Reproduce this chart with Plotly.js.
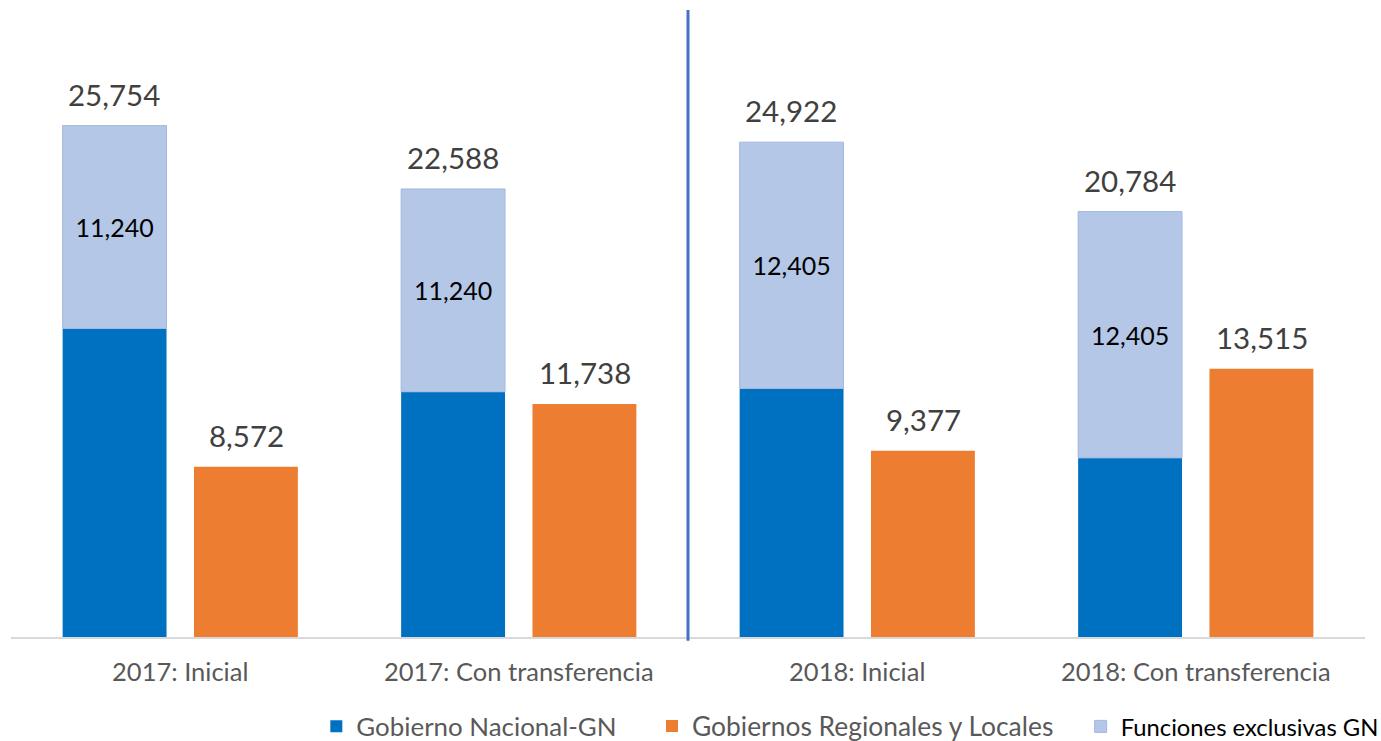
<!DOCTYPE html>
<html>
<head>
<meta charset="utf-8">
<script src="https://cdn.plot.ly/plotly-3.0.1.min.js"></script>
<style>html,body{margin:0;padding:0;background:#fff;}#chart{width:1381px;height:741px;}</style>
</head>
<body>
<div id="chart"></div>
<script>
// Data
const categories = ["2017: Inicial", "2017: Con transferencia", "2018: Inicial", "2018: Con transferencia"];
const gobiernoNacional = [15540, 12350, 12517, 9020];          // dark blue segment
const funcionesExclusivas = [10214, 10214, 12405, 12405];     // light blue segment (stacked on GN)
const gobiernosRegionales = [8572, 11738, 9377, 13515];       // orange bars
const exclusivasLabels = ["11,240", "11,240", "12,405", "12,405"];
const totalLabels = ["25,754", "22,588", "24,922", "20,784"];
const regionalLabels = ["8,572", "11,738", "9,377", "13,515"];
const seriesNames = ["Gobierno Nacional-GN", "Gobiernos Regionales y Locales", "Funciones exclusivas GN"];

const FONT = "Lato, 'Open Sans', sans-serif";
const gnTotals = gobiernoNacional.map((v, i) => v + funcionesExclusivas[i]);

const traces = [
  {
    type: "bar", name: seriesNames[0], x: categories, y: gobiernoNacional, legend: "legend",
    offsetgroup: "gn", marker: {color: "#0070C0"}, hoverinfo: "skip"
  },
  {
    type: "bar", name: seriesNames[1], x: categories, y: gobiernosRegionales, legend: "legend2",
    offsetgroup: "grl", marker: {color: "#ED7D31"}, hoverinfo: "skip"
  },
  {
    type: "bar", name: seriesNames[2], x: categories, y: funcionesExclusivas, legend: "legend3",
    base: gobiernoNacional, offsetgroup: "gn",
    marker: {color: "#B4C7E7", line: {color: "#A3B8E0", width: 1}},
    text: exclusivasLabels, textposition: "inside", insidetextanchor: "middle", textangle: 0,
    constraintext: "none", textfont: {family: FONT, size: 25, color: "#000"},
    hoverinfo: "skip"
  }
];

const annotations = [];
categories.forEach((c, i) => {
  annotations.push({x: c, y: gnTotals[i], xref: "x", yref: "y", xshift: -66, yshift: 12,
    yanchor: "bottom", showarrow: false, text: totalLabels[i],
    font: {family: FONT, size: 29.5, color: "#404040"}});
  annotations.push({x: c, y: gobiernosRegionales[i], xref: "x", yref: "y", xshift: 66, yshift: 12,
    yanchor: "bottom", showarrow: false, text: regionalLabels[i],
    font: {family: FONT, size: 29.5, color: "#404040"}});
});

const legendBase = {orientation: "h", xanchor: "left", y: -0.1426, yanchor: "middle", itemclick: false,
  bgcolor: "rgba(0,0,0,0)"};

const layout = {
  width: 1381, height: 741,
  margin: {l: 10.5, r: 15.5, t: 10, b: 103.5, autoexpand: false},
  paper_bgcolor: "#fff", plot_bgcolor: "#fff",
  barmode: "group", bargap: 0.224, bargroupgap: 0.209,
  font: {family: FONT, color: "#595959"},
  xaxis: {
    type: "category", showgrid: false, zeroline: false, showline: true, automargin: false,
    linecolor: "#D9D9D9", linewidth: 2, ticks: "", ticklabelstandoff: 11,
    tickfont: {family: FONT, size: 25.5, color: "#595959"}, fixedrange: true
  },
  yaxis: {range: [0, 31576], visible: false, showgrid: false, zeroline: false, fixedrange: true, automargin: false},
  showlegend: true,
  legend: Object.assign({}, legendBase, {x: 0.2255, font: {family: FONT, size: 25.9, color: "#595959"}}),
  legend2: Object.assign({}, legendBase, {x: 0.4734, font: {family: FONT, size: 26.4, color: "#595959"}}),
  legend3: Object.assign({}, legendBase, {x: 0.790, font: {family: FONT, size: 23.8, color: "#000000"}}),
  shapes: [{type: "line", xref: "x", yref: "paper", x0: 1.5, x1: 1.5, y0: -0.006, y1: 1,
    line: {color: "#4472C4", width: 3}}],
  annotations: annotations
};

Plotly.newPlot("chart", traces, layout, {displayModeBar: false, staticPlot: true});
</script>
</body>
</html>
